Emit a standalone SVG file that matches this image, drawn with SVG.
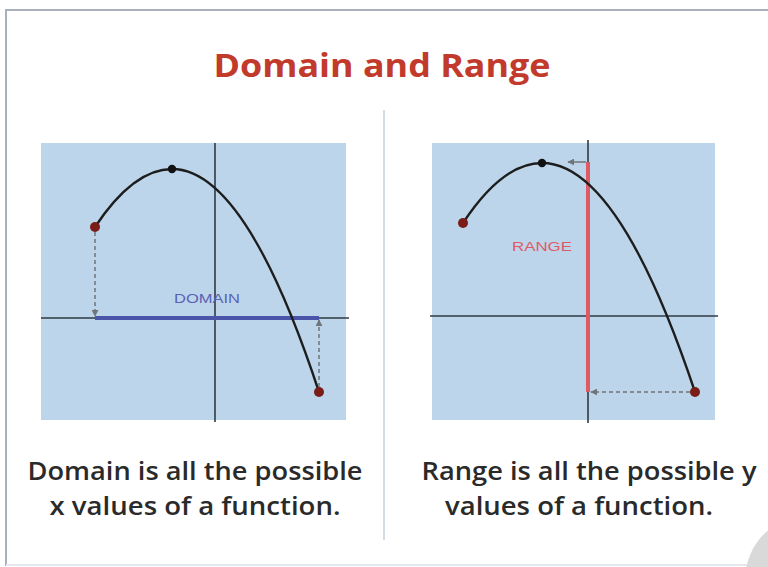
<svg xmlns="http://www.w3.org/2000/svg" width="768" height="567" viewBox="0 0 768 567">
<defs>
<style>
.panel{fill:#bcd5ea}
.axis{stroke:#2e3a44;stroke-width:1.6;fill:none}
.curve{stroke:#1d1d1d;stroke-width:2.4;fill:none}
.dash{stroke:#6e7478;stroke-width:1.5;stroke-dasharray:4 3;fill:none}
.end{fill:#7a1c18}
.vtx{fill:#111}
.cap{font-family:"Open Sans","Liberation Sans",sans-serif;font-size:25px;font-weight:600;fill:#2a2a2a;text-anchor:middle}
.lbl{font-family:"Liberation Sans","Open Sans",sans-serif;font-size:13px;text-anchor:middle}
</style>
<marker id="ah" viewBox="0 0 10 10" refX="9" refY="5" markerWidth="7" markerHeight="7" orient="auto-start-reverse" markerUnits="userSpaceOnUse">
<path d="M0,0 L10,5 L0,10 z" fill="#6e7478"/>
</marker>
</defs>
<rect x="0" y="0" width="768" height="567" fill="#ffffff"/>
<path d="M6,566 L6,10 L768,10" fill="none" stroke="#a8afbd" stroke-width="2"/>
<line x1="6" y1="565" x2="768" y2="565" stroke="#e4e8ef" stroke-width="2"/>
<circle cx="810" cy="580" r="65" fill="#d9d9d9"/>
<g id="title">
<text x="382" y="77" font-family="Open Sans, Liberation Sans, sans-serif" font-size="33" font-weight="bold" fill="#c23a2c" text-anchor="middle" textLength="337" lengthAdjust="spacingAndGlyphs">Domain and Range</text>
</g>
<line id="divider" x1="384" y1="110" x2="384" y2="540" stroke="#c9d1de" stroke-width="1.5"/>
<g id="domain-graph">
<rect class="panel" x="41" y="143" width="305" height="277"/>
<line class="axis" x1="215" y1="143" x2="215" y2="422"/>
<line class="axis" x1="41" y1="318" x2="349" y2="318"/>
<line x1="95" y1="318" x2="319" y2="318" stroke="#4a54a8" stroke-width="4"/>
<text class="lbl" x="207" y="303" fill="#5a62b4" textLength="66" lengthAdjust="spacingAndGlyphs">DOMAIN</text>
<path class="curve" d="M95,227 Q133.5,169 172,169 Q245.5,169 319,392"/>
<line class="dash" x1="95" y1="232" x2="95" y2="316" marker-end="url(#ah)"/>
<line class="dash" x1="319" y1="387" x2="319" y2="320" marker-end="url(#ah)"/>
<circle class="end" cx="95" cy="227" r="5"/>
<circle class="vtx" cx="172" cy="169" r="4.2"/>
<circle class="end" cx="319" cy="392" r="5"/>
</g>
<g id="range-graph">
<rect class="panel" x="432" y="143" width="283" height="277"/>
<line class="axis" x1="588" y1="140" x2="588" y2="423"/>
<line class="axis" x1="430" y1="316" x2="718" y2="316"/>
<line x1="588" y1="162" x2="588" y2="392" stroke="#e05a66" stroke-width="4"/>
<text class="lbl" x="542" y="251" fill="#e05a66" textLength="60" lengthAdjust="spacingAndGlyphs">RANGE</text>
<path class="curve" d="M463,223 Q502.5,163 542,163 Q618.5,163 695,392"/>
<line x1="586" y1="162" x2="568" y2="162" stroke="#6e7478" stroke-width="1.5" marker-end="url(#ah)"/>
<line class="dash" x1="690" y1="392" x2="591" y2="392" marker-end="url(#ah)"/>
<circle class="end" cx="463" cy="223" r="5"/>
<circle class="vtx" cx="542" cy="163" r="4.2"/>
<circle class="end" cx="695" cy="392" r="5"/>
</g>
<g id="domain-caption">
<text class="cap" x="195" y="480" textLength="335" lengthAdjust="spacingAndGlyphs">Domain is all the possible</text>
<text class="cap" x="195" y="515" textLength="291" lengthAdjust="spacingAndGlyphs">x values of a function.</text>
</g>
<g id="range-caption">
<text class="cap" x="589" y="480" textLength="335" lengthAdjust="spacingAndGlyphs">Range is all the possible y</text>
<text class="cap" x="579" y="515" textLength="268" lengthAdjust="spacingAndGlyphs">values of a function.</text>
</g>
</svg>
